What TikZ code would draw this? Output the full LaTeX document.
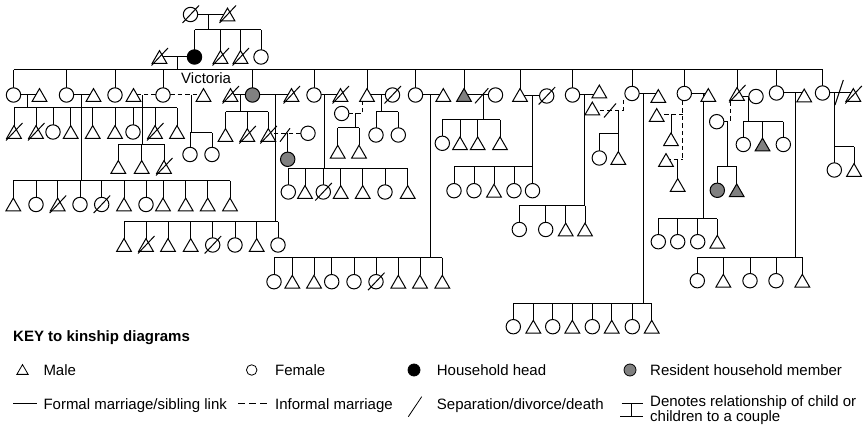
\documentclass[tikz,border=0pt]{standalone}
\usepackage{fontspec}
\setmainfont{Liberation Sans}
\usetikzlibrary{shapes.geometric}
\pgfdeclarelayer{bg}
\pgfsetlayers{bg,main}
\tikzset{
  ln/.style={line width=1pt},
  inf/.style={line width=1pt, dash pattern=on 4.5pt off 3pt},
  per/.style={draw, line width=1pt, fill=white, inner sep=0pt, outer sep=0pt},
  fem/.style={per, circle, minimum size=14.4pt},
  mal/.style={per, regular polygon, regular polygon sides=3, minimum size=17pt, yshift=-2.1pt},
  txt/.style={anchor=base west, inner sep=0pt, font=\fontsize{15}{18}\selectfont},
}
\newcommand\slashat[2]{\draw[ln] (#1-8,#2+8.5) -- (#1+8.5,#2-9);}
\newcommand\pF[3]{\node[fem] (#1) at (#2,#3) {};}
\newcommand\pFd[3]{\node[fem] (#1) at (#2,#3) {};\slashat{#2}{#3}}
\newcommand\pFg[3]{\node[fem,fill=gray] (#1) at (#2,#3) {};}
\newcommand\pM[3]{\node[mal] (#1) at (#2,#3) {};}
\newcommand\pMd[3]{\node[mal] (#1) at (#2,#3) {};\slashat{#2}{#3}}
\newcommand\pMg[3]{\node[mal,fill=gray] (#1) at (#2,#3) {};}
\newcommand\kids[3]{\draw[ln] (#21 |- 0,#1) -- (#2#3 |- 0,#1);
  \foreach \i in {1,...,#3} {\draw[ln] (#2\i |- 0,#1) -- (#2\i);}}
\begin{document}
\begin{tikzpicture}[x=1pt,y=-1pt]
\useasboundingbox (0,0) rectangle (866,427);
% ---------- generation 0 and 1
\pFd{g0a}{190.5}{14.5} \pMd{g0b}{227.5}{14.5}
\node[fem,fill=black] (b1) at (194.5,57) {};
\pMd{b2}{220.5}{57} \pMd{b3}{240.5}{57} \pF{b4}{261}{57}
\pMd{vh}{159.5}{57}
\node[txt] (vlabel) at (181,83.5) {Victoria};
% ---------- generation 2
\pF{c1}{13.5}{95} \pM{h1}{39.5}{95}
\pF{c2}{66.5}{95} \pM{h2}{93.5}{95}
\pF{c3}{115}{95} \pM{p3}{133.5}{95}
\pF{c4}{163}{95} \pM{p4}{203.5}{95}
\pMd{h5}{230.5}{95} \pFg{c5}{252.5}{95} \pMd{h5b}{291.5}{95}
\pF{c6}{314}{95} \pMd{h6}{340.5}{95}
\pM{c7}{367}{95} \pFd{w7}{392.5}{95} \pF{w7b}{341.7}{113.5}
\pF{c8}{415.5}{95} \pM{h8}{443.3}{95}
\pMg{c9}{464}{95} \pF{w9}{495.5}{95}
\pM{c10}{520}{95} \pFd{w10}{546.7}{96}
\pF{c11}{572.5}{95} \pM{h11}{599.3}{91.5}
\pF{c12}{632}{93.5} \pM{h12}{658.3}{96} \pM{p12}{592.3}{108.5}
\pF{c13}{684.3}{93.5} \pM{h13}{708.3}{95} \pM{p13a}{656.7}{115} \pM{p13b}{666}{160}
\pMd{c14}{737}{94} \pF{w14}{756}{96.5} \pF{p14}{716.7}{121.7}
\pF{c15}{776.5}{93} \pM{h15}{804.2}{95.5}
\pF{c16}{822.5}{93} \pMd{h16}{853.3}{95}
% ---------- generation 3
\pMd{d1}{14}{132} \pMd{d2}{36}{132} \pF{d3}{53}{132} \pM{d4}{70.7}{132} \pM{d5}{92.7}{132}
\pM{d6}{115}{132} \pF{d7}{133}{132} \pMd{d8}{155}{132} \pM{d9}{177}{132}
\pM{e1}{13.3}{204.5} \pF{e2}{36}{204.5} \pMd{e3}{57.7}{204.5} \pF{e4}{80}{204.5} \pFd{e5}{101.7}{204.5}
\pM{e6}{124}{204.5} \pF{e7}{146}{204.5} \pM{e8}{163}{204.5} \pM{e9}{185.7}{204.5} \pM{e10}{207.7}{204.5} \pM{e11}{230}{204.5}
\pM{f1}{118.3}{167} \pM{f2}{141.7}{167} \pMd{f3}{164}{167}
\pF{g1}{190}{154.5} \pF{g2}{212}{154.5}
\pM{k1}{225.5}{135} \pMd{k2}{247.3}{135} \pMd{k3}{268.3}{135}
\pF{q}{308}{133.3} \pFg{kq}{287.7}{159.3}
\pM{m1}{124}{245} \pMd{m2}{146}{245} \pM{m3}{168}{245} \pM{m4}{190.7}{245} \pFd{m5}{212.7}{245}
\pF{m6}{235}{245} \pM{m7}{256.7}{245} \pF{m8}{278}{245}
\pF{n1}{288.3}{192} \pM{n2}{305}{192} \pFd{n3}{323.3}{192} \pM{n4}{340.7}{192} \pM{n5}{362.7}{192}
\pF{n6}{385}{192} \pM{n7}{407.7}{192}
\pF{o1}{376}{135} \pF{o2}{398.3}{135}
\pM{r1}{337.7}{151.7} \pM{r2}{359}{151.7}
\pF{sa1}{274}{281.7} \pM{sa2}{292.3}{281.7} \pM{sa3}{314}{281.7} \pF{sa4}{331.7}{281.7} \pF{sa5}{354}{281.7}
\pFd{sa6}{376}{281.7} \pM{sa7}{398.3}{281.7} \pM{sa8}{420}{281.7} \pM{sa9}{442.3}{281.7}
\pF{t1}{442.3}{143.3} \pM{t2}{460}{143.3} \pM{t3}{477.7}{143.3} \pM{t4}{500}{143.3}
\pF{u1}{454}{190.7} \pF{u2}{474}{190.7} \pM{u3}{494}{190.7} \pF{u4}{514}{190.7} \pF{u5}{532.5}{190.7}
\pF{v1}{519.3}{229.5} \pF{v2}{545.7}{229.5} \pM{v3}{565.7}{229.5} \pM{v4}{585}{229.5}
\pF{w1}{599.3}{158} \pM{w2}{618.3}{158}
\pF{x1}{513.3}{326.7} \pM{x2}{533.3}{326.7} \pF{x3}{552.7}{326.7} \pM{x4}{572.3}{326.7}
\pF{x5}{592.3}{326.7} \pM{x6}{611.7}{326.7} \pF{x7}{632.3}{326.7} \pM{x8}{651.7}{326.7}
\pF{yy1}{658.3}{241.7} \pF{yy2}{677.7}{241.7} \pF{yy3}{697.7}{241.7} \pM{yy4}{717.3}{241.7}
\pM{z1}{671}{139.3} \pM{z2}{677.7}{185}
\pF{aa1}{743.3}{144.5} \pMg{aa2}{762.5}{144.5} \pF{aa3}{783.3}{144.5}
\pFg{bb1}{717.3}{190.3} \pMg{bb2}{736.7}{190.3}
\pF{cc1}{697.3}{280.7} \pM{cc2}{723.3}{280.7} \pF{cc3}{750}{280.7} \pF{cc4}{776}{280.7} \pM{cc5}{802.3}{280.7}
\pF{dd1}{834.3}{170} \pM{dd2}{854}{170}
% ---------- connectors (behind the symbols)
\begin{pgfonlayer}{bg}
\draw[ln] (g0a) -- (g0a -| g0b);  \draw[ln] (208.3,14.5) -- (208.3,30);  \kids{30}{b}{4}
\draw[ln] (b1) -- (b1 -| vh);      \draw[ln] (177.5,57) -- (177.5,70);    \kids{70}{c}{16}
\draw[ln] (c1) -- (c1 -| h1);      \draw[ln] (27.7,95) -- (27.7,108);     \kids{108}{d}{9}
\draw[ln] (c2) -- (c2 -| h2);      \draw[ln] (81,95) -- (81,181);         \kids{181}{e}{11}
\draw[inf] (c4) -- (c4 -| p3);     \draw[ln] (142.7,95) -- (142.7,144.3); \kids{144.3}{f}{3}
\draw[inf] (c4) -- (c4 -| p4);     \draw[ln] (191,95) -- (191,133);       \kids{133}{g}{2}
\draw[ln] (c5) -- (c5 -| h5);      \draw[ln] (240,95) -- (240,112);       \kids{112}{k}{3}
\draw[inf] (q) -- (q -| k3);       \draw[ln] (kq |- q) -- (kq);
\draw[ln] (c5) -- (c5 -| h5b);     \draw[ln] (275.7,95) -- (275.7,221.7); \kids{221.7}{m}{8}
\draw[ln] (c6) -- (c6 -| h6);      \draw[ln] (324.3,95) -- (324.3,168.3); \kids{168.3}{n}{7}
\draw[ln] (w7) -- (w7 -| c7);      \draw[ln] (381.7,95) -- (381.7,112);   \kids{112}{o}{2}
\draw[inf] (w7b) -| (362.7,101.4); \draw[ln] (355,113.5) -- (355,128);    \kids{128}{r}{2}
\draw[ln] (c8) -- (c8 -| h8);      \draw[ln] (430,95) -- (430,257.7);     \kids{257.7}{sa}{9}
\draw[ln] (w9) -- (w9 -| c9);      \draw[ln] (483.3,95) -- (483.3,120);   \kids{120}{t}{4}
\draw[ln] (w10) -- (w10 -| c10);   \draw[ln] (532.5,96) -- (532.5,166.7); \kids{166.7}{u}{5}
\draw[ln] (c11) -- (c11 -| h11);   \draw[ln] (584.3,95) -- (584.3,205.7); \kids{205.7}{v}{4}
\draw[inf] (p12 |- 0,110.5) -- (623.5,110.5) -- (623.5,97.5);
                                   \draw[ln] (618.3,110.5) -- (618.3,133.3); \kids{133.3}{w}{2}
\draw[ln] (c12) -- (c12 -| h12);   \draw[ln] (643.3,93.5) -- (643.3,303.3); \kids{303.3}{x}{8}
\draw[ln] (c13) -- (c13 -| h13);   \draw[ln] (703.3,93.5) -- (703.3,219); \kids{219}{yy}{4}
\draw[inf] (682.7,100.8) -- (682.7,159.3);
\draw[inf] (p13a |- 0,114.5) -- (682.7,114.5); \draw[ln] (z1 |- 0,114.5) -- (z1);
\draw[inf] (p13b |- 0,159.3) -- (682.7,159.3); \draw[ln] (z2 |- 0,159.3) -- (z2);
\draw[ln] (w14) -- (w14 -| c14);   \draw[ln] (748.7,96.5) -- (748.7,121.7); \kids{121.7}{aa}{3}
\draw[inf] (730,101.4) |- (p14);   \draw[ln] (727.7,121.7) -- (727.7,166.7); \kids{166.7}{bb}{2}
\draw[ln] (c15) -- (c15 -| h15);   \draw[ln] (795,93) -- (795,257.3);     \kids{257.3}{cc}{5}
\draw[ln] (c16) -- (c16 -| h16);   \draw[ln] (834.3,93) -- (834.3,146.7); \kids{146.7}{dd}{2}
\end{pgfonlayer}
% separation marks on unions
\draw[ln] (475,103.3) -- (488.3,88.3);
\draw[ln] (280,141.7) -- (290,128.3);
\draw[ln] (604,117.5) -- (616,103.5);
\draw[ln] (835,105) -- (843.3,80);
% ---------- key
\node[txt, font=\fontsize{15}{18}\selectfont\bfseries] (khead) at (13,341) {KEY to kinship diagrams};
\node[mal, minimum size=13pt, line width=0.8pt, yshift=0.5pt] (kM) at (22.5,369.5) {};
\node[txt] (tM) at (43.3,375) {Male};
\node[fem, minimum size=10.5pt, line width=0.8pt] (kF) at (251.7,370) {};
\node[txt] (tF) at (275,375) {Female};
\node[fem, minimum size=12pt, fill=black, line width=0.8pt] (kH) at (414,370) {};
\node[txt] (tH) at (436.7,375) {Household head};
\node[fem, minimum size=12pt, fill=gray, line width=0.8pt] (kR) at (630,370) {};
\node[txt] (tR) at (650,375) {Resident household member};
\coordinate (kL1) at (13.3,403.3); \coordinate (kL2) at (36.7,403.3);
\draw[line width=0.8pt] (kL1) -- (kL2);
\node[txt] (tL) at (43.3,409) {Formal marriage/sibling link};
\coordinate (kI1) at (238.3,403.3); \coordinate (kI2) at (267,403.3);
\draw[line width=0.8pt, dash pattern=on 6.5pt off 4.5pt] (kI1) -- (kI2);
\node[txt] (tI) at (275,409) {Informal marriage};
\coordinate (kS1) at (408.3,416.7); \coordinate (kS2) at (421.7,396.7);
\draw[line width=0.8pt] (kS1) -- (kS2);
\node[txt] (tS) at (436.7,409) {Separation/divorce/death};
\coordinate (kT) at (631.7,403.3); \coordinate (kB) at (631.7,416.7);
\draw[line width=0.8pt] (kT) ++(-10,0) -- ++(21.6,0);
\draw[line width=0.8pt] (kB) ++(-11.7,0) -- ++(23.3,0);
\draw[line width=0.8pt] (kT) -- (kB);
\node[txt] (tC1) at (650,406.7) {Denotes relationship of child or};
\node[txt] (tC2) at (650,421) {children to a couple};
\end{tikzpicture}
\end{document}
